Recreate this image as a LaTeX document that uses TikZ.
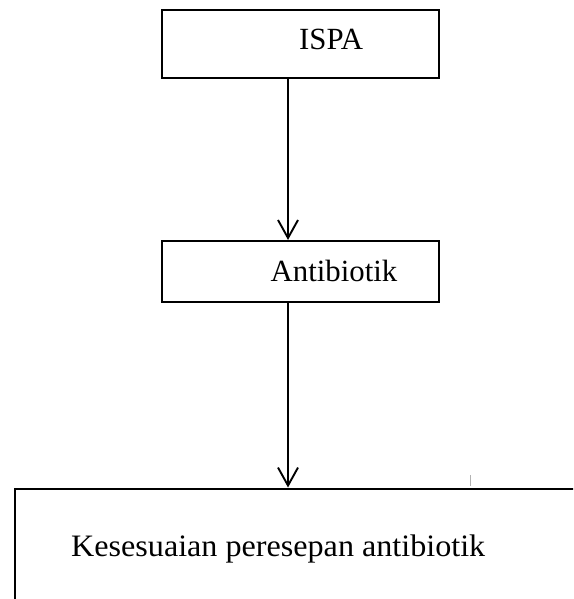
\documentclass[tikz,border=0pt]{standalone}
\usepackage{fontspec}
\setmainfont{Liberation Serif}
\usetikzlibrary{arrows.meta}
\begin{document}
\begin{tikzpicture}[x=1pt,y=-1pt,
  boxst/.style={draw=black,line width=2.1pt,rectangle,inner sep=0pt},
  lbl/.style={inner sep=0pt,anchor=base west,font=\fontsize{30.8}{36}\selectfont},
  arr/.style={draw=black,line width=2.1pt,-{Straight Barb[length=18pt,width=20pt,line width=1.9pt]}}]
\useasboundingbox (0,0) rectangle (573,599);
\clip (0,0) rectangle (573,599);
\fill[white] (0,0) rectangle (573,599);
% boxes
\node[boxst,minimum width=277pt,minimum height=68pt] (ispa) at (300.5,44) {};
\node[boxst,minimum width=277pt,minimum height=61pt] (anti) at (300.5,271.5) {};
\node[boxst,minimum width=620pt,minimum height=200pt,anchor=north west] (kes) at (14,487.5) {};
% labels
\node[lbl] (tispa) at (299,49.3) {ISPA};
\node[lbl] (tanti) at (270.5,281.7) {Antibiotik};
\node[lbl,xscale=1.03,font=\fontsize{31.2}{36}\selectfont] (tkes) at (71,556) {Kesesuaian peresepan antibiotik};
% connectors
\draw[arr] ([xshift=-12.5pt]ispa.south) -- ([xshift=-12.5pt]anti.north);
\draw[arr] ([xshift=-12.5pt]anti.south) -- ([xshift=-12.5pt]anti.south |- kes.north);
% small tick
\coordinate (tk1) at (470,475);
\coordinate (tk2) at (470,486);
\draw[gray!60,line width=1pt] (tk1) -- (tk2);
\end{tikzpicture}
\end{document}
